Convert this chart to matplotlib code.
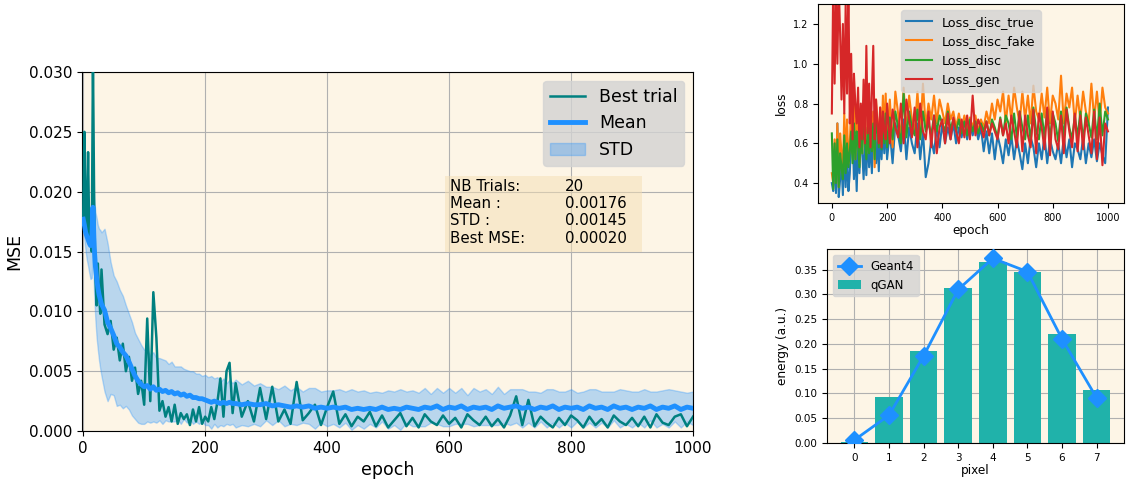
import numpy as np
import matplotlib
matplotlib.use("Agg")
import matplotlib.pyplot as plt
from matplotlib.patches import Rectangle

# ---------------- MSE panel data ----------------
# epochs: 0..30 step 2, 35..245 step 5, 250..1000 step 10
mse_epochs = np.concatenate([np.arange(0, 31, 2), np.arange(35, 246, 5), np.arange(250, 1001, 10)])

best_trial = [
    # 0..30
    0.0178, 0.0250, 0.0180, 0.0165, 0.0233, 0.0160, 0.0185, 0.0150,
    0.0310, 0.0190, 0.0130, 0.0105, 0.0140, 0.0115, 0.0098, 0.0135,
    # 35..245
    0.0089, 0.0081, 0.0092, 0.0068, 0.0078, 0.0059, 0.0073, 0.0050, 0.0062, 0.0042,
    0.0053, 0.0031, 0.0042, 0.0022, 0.0094, 0.0025, 0.0116, 0.0078, 0.0017, 0.0025,
    0.0012, 0.0020, 0.0008, 0.0022, 0.0006, 0.0015, 0.0010, 0.0014, 0.0005, 0.0018,
    0.0008, 0.0020, 0.0006, 0.0012, 0.0008, 0.0020, 0.0010, 0.0024, 0.0044, 0.0012,
    0.0050, 0.0057, 0.0015,
    # 250..1000
    0.0040, 0.0012, 0.0025, 0.0008, 0.0036, 0.0010, 0.0037, 0.0008, 0.0018, 0.0006,
    0.0041, 0.0009, 0.0015, 0.0022, 0.0005, 0.0020, 0.0033, 0.0006, 0.0014, 0.0004,
    0.0012, 0.0008, 0.0016, 0.0004, 0.0013, 0.0003, 0.0009, 0.0015, 0.0004, 0.0011,
    0.0003, 0.0014, 0.0008, 0.0005, 0.0013, 0.0006, 0.0011, 0.0003, 0.0014, 0.0009,
    0.0005, 0.0012, 0.0004, 0.0010, 0.0003, 0.0013, 0.0029, 0.0005, 0.0026, 0.0004,
    0.0012, 0.0007, 0.0003, 0.0011, 0.0005, 0.0013, 0.0009, 0.0003, 0.0012, 0.0005,
    0.0010, 0.0003, 0.0013, 0.0008, 0.0005, 0.0011, 0.0004, 0.0012, 0.0003, 0.0014,
    0.0007, 0.0005, 0.0012, 0.0014, 0.0004, 0.0012,
]

mean_mse = [
    0.0177, 0.0172, 0.0166, 0.0163, 0.0160, 0.0157, 0.0155, 0.0158,
    0.0187, 0.0154, 0.0138, 0.0128, 0.0120, 0.0114, 0.0110, 0.0106,
    0.0101, 0.0091, 0.0086, 0.0080, 0.0073, 0.0070, 0.0066, 0.0063, 0.0058, 0.0052,
    0.0046, 0.0042, 0.0039, 0.0037, 0.0038, 0.0035, 0.0037, 0.0034, 0.0035, 0.0033,
    0.0034, 0.0032, 0.0033, 0.0031, 0.0032, 0.0030, 0.0031, 0.0029, 0.0030, 0.0028,
    0.0028, 0.0027, 0.0027, 0.0026, 0.0025, 0.0024, 0.0025, 0.0024, 0.0023, 0.0024,
    0.0023, 0.0024, 0.0023,
    0.0023, 0.0022, 0.0023, 0.0022, 0.0022, 0.0023, 0.0021, 0.0022, 0.0021, 0.0020,
    0.0021, 0.0020, 0.0021, 0.0019, 0.0020, 0.0019, 0.0020, 0.0019, 0.0020, 0.0018,
    0.0019, 0.0018, 0.0019, 0.0018, 0.0020, 0.0018, 0.0019, 0.0018, 0.0020, 0.0019,
    0.0018, 0.0020, 0.0019, 0.0021, 0.0018, 0.0020, 0.0019, 0.0021, 0.0018, 0.0020,
    0.0019, 0.0020, 0.0018, 0.0021, 0.0019, 0.0020, 0.0021, 0.0019, 0.0020, 0.0018,
    0.0020, 0.0019, 0.0021, 0.0018, 0.0020, 0.0019, 0.0020, 0.0018, 0.0021, 0.0019,
    0.0020, 0.0018, 0.0021, 0.0019, 0.0020, 0.0018, 0.0020, 0.0019, 0.0021, 0.0018,
    0.0020, 0.0019, 0.0021, 0.0018, 0.0020, 0.0019,
]

std_mse = [
    0.0008, 0.0012, 0.0016, 0.0020, 0.0022, 0.0025, 0.0028, 0.0030,
    0.0035, 0.0040, 0.0045, 0.0050, 0.0052, 0.0055, 0.0058, 0.0060,
    0.0068, 0.0066, 0.0055, 0.0050, 0.0052, 0.0048, 0.0047, 0.0042, 0.0040, 0.0039,
    0.0036, 0.0035, 0.0033, 0.0031, 0.0030, 0.0028, 0.0029, 0.0027, 0.0026, 0.0027,
    0.0025, 0.0024, 0.0025, 0.0023, 0.0022, 0.0024, 0.0021, 0.0022, 0.0020, 0.0022,
    0.0020, 0.0021, 0.0019, 0.0021, 0.0020, 0.0022, 0.0019, 0.0021, 0.0018, 0.0020,
    0.0017, 0.0019, 0.0017,
    0.0020, 0.0017, 0.0019, 0.0016, 0.0018, 0.0014, 0.0016, 0.0013, 0.0017, 0.0014,
    0.0016, 0.0013, 0.0015, 0.0017, 0.0013, 0.0015, 0.0014, 0.0016, 0.0013, 0.0017,
    0.0014, 0.0016, 0.0013, 0.0015, 0.0012, 0.0016, 0.0014, 0.0017, 0.0013, 0.0015,
    0.0014, 0.0016, 0.0012, 0.0015, 0.0014, 0.0016, 0.0013, 0.0015, 0.0012, 0.0016,
    0.0014, 0.0015, 0.0013, 0.0016, 0.0012, 0.0015, 0.0014, 0.0016, 0.0013, 0.0015,
    0.0012, 0.0016, 0.0014, 0.0015, 0.0013, 0.0016, 0.0012, 0.0015, 0.0014, 0.0016,
    0.0013, 0.0015, 0.0012, 0.0016, 0.0014, 0.0015, 0.0013, 0.0016, 0.0012, 0.0015,
    0.0014, 0.0016, 0.0013, 0.0015, 0.0012, 0.0014,
]

stat_names = ["NB Trials:", "Mean :", "STD :", "Best MSE:"]
stat_values = ["20", "0.00176", "0.00145", "0.00020"]

# ---------------- loss panel data ----------------
# epochs: 0..195 step 5, 200..1000 step 10
loss_epochs = np.concatenate([np.arange(0, 200, 5), np.arange(200, 1001, 10)])

loss_disc_true = [
    0.40, 0.36, 0.55, 0.35, 0.70, 0.33, 0.42, 0.50, 0.34, 0.60,
    0.38, 0.55, 0.36, 0.45, 0.62, 0.68, 0.42, 0.58, 0.36, 0.62,
    0.45, 0.65, 0.56, 0.42, 0.60, 0.44, 0.66, 0.48, 0.62, 0.45,
    0.68, 0.58, 0.50, 0.64, 0.46, 0.66, 0.52, 0.68, 0.55, 0.70,
    0.52, 0.66, 0.50, 0.70, 0.64, 0.56, 0.72, 0.52, 0.68, 0.60,
    0.55, 0.70, 0.52, 0.66, 0.43, 0.50, 0.62, 0.55, 0.68, 0.58,
    0.70, 0.60, 0.68, 0.62, 0.70, 0.60, 0.68, 0.63, 0.72, 0.62,
    0.70, 0.64, 0.70, 0.62, 0.68, 0.56, 0.66, 0.55, 0.65, 0.52,
    0.64, 0.58, 0.50, 0.62, 0.54, 0.64, 0.52, 0.62, 0.55, 0.47,
    0.60, 0.50, 0.63, 0.58, 0.48, 0.60, 0.52, 0.64, 0.50, 0.62,
    0.56, 0.52, 0.60, 0.50, 0.63, 0.53, 0.62, 0.48, 0.60, 0.57,
    0.52, 0.63, 0.50, 0.60, 0.53, 0.62, 0.51, 0.60, 0.54, 0.50,
    0.78,
]

loss_disc_fake = [
    0.45, 0.40, 0.62, 0.42, 0.70, 0.38, 0.65, 0.55, 0.45, 0.75,
    0.48, 0.72, 0.50, 0.60, 0.78, 0.55, 0.80, 0.52, 0.74, 0.66,
    0.50, 0.72, 0.55, 0.78, 0.68, 0.55, 0.74, 0.58, 0.80, 0.60,
    0.76, 0.48, 0.82, 0.70, 0.62, 0.78, 0.60, 0.84, 0.64, 0.85,
    0.62, 0.82, 0.58, 0.86, 0.75, 0.62, 0.88, 0.65, 0.84, 0.72,
    0.66, 0.86, 0.64, 0.90, 0.68, 0.80, 0.72, 0.84, 0.70, 0.82,
    0.76, 0.70, 0.80, 0.72, 0.76, 0.68, 0.75, 0.67, 0.74, 0.66,
    0.73, 0.68, 0.74, 0.66, 0.72, 0.68, 0.76, 0.70, 0.80, 0.72,
    0.82, 0.76, 0.86, 0.70, 0.84, 0.72, 0.88, 0.78, 0.70, 0.86,
    0.72, 0.84, 0.70, 0.89, 0.76, 0.72, 0.85, 0.73, 0.88, 0.70,
    0.84, 0.80, 0.72, 0.94, 0.70, 0.85, 0.78, 0.88, 0.70, 0.84,
    0.72, 0.86, 0.76, 0.70, 0.90, 0.72, 0.86, 0.70, 0.88, 0.78,
    0.75,
]

loss_disc = [
    0.65, 0.37, 0.60, 0.40, 0.62, 0.38, 0.55, 0.48, 0.42, 0.64,
    0.45, 0.60, 0.48, 0.56, 0.66, 0.50, 0.70, 0.52, 0.66, 0.60,
    0.48, 0.68, 0.55, 0.70, 0.62, 0.52, 0.68, 0.55, 0.72, 0.56,
    0.70, 0.52, 0.74, 0.66, 0.58, 0.72, 0.57, 0.74, 0.60, 0.75,
    0.58, 0.73, 0.62, 0.76, 0.68, 0.60, 0.85, 0.63, 0.76, 0.68,
    0.64, 0.77, 0.62, 0.76, 0.66, 0.70, 0.64, 0.74, 0.66, 0.74,
    0.70, 0.66, 0.76, 0.67, 0.72, 0.66, 0.72, 0.65, 0.71, 0.64,
    0.72, 0.66, 0.71, 0.65, 0.70, 0.66, 0.71, 0.64, 0.72, 0.68,
    0.63, 0.73, 0.64, 0.74, 0.70, 0.62, 0.75, 0.63, 0.76, 0.68,
    0.62, 0.74, 0.61, 0.78, 0.66, 0.62, 0.75, 0.63, 0.77, 0.62,
    0.75, 0.70, 0.61, 0.76, 0.63, 0.78, 0.68, 0.62, 0.74, 0.63,
    0.76, 0.61, 0.75, 0.70, 0.63, 0.77, 0.62, 0.80, 0.64, 0.76,
    0.72,
]

loss_gen = [
    0.75, 1.40, 0.90, 1.35, 1.00, 1.40, 1.15, 0.82, 1.20, 0.75,
    1.30, 0.85, 1.40, 0.70, 1.05, 0.62, 0.95, 0.80, 0.70, 0.88,
    0.58, 0.80, 0.62, 0.92, 0.60, 1.09, 0.65, 0.90, 0.58, 0.85,
    1.09, 0.62, 0.82, 0.70, 0.60, 0.78, 0.58, 0.76, 0.66, 0.62,
    0.80, 0.60, 0.77, 0.68, 0.63, 0.80, 0.60, 0.82, 0.72, 0.63,
    0.78, 0.58, 0.80, 0.66, 0.62, 0.76, 0.58, 0.74, 0.55, 0.68,
    0.72, 0.60, 0.75, 0.62, 0.73, 0.66, 0.60, 0.72, 0.63, 0.74,
    0.62, 0.84, 0.64, 0.72, 0.68, 0.63, 0.71, 0.64, 0.70, 0.66,
    0.62, 0.72, 0.64, 0.70, 0.60, 0.74, 0.66, 0.58, 0.76, 0.56,
    0.74, 0.64, 0.58, 0.77, 0.55, 0.75, 0.68, 0.57, 0.78, 0.54,
    0.76, 0.62, 0.57, 0.74, 0.55, 0.77, 0.66, 0.58, 0.75, 0.56,
    0.74, 0.57, 0.73, 0.64, 0.55, 0.76, 0.52, 0.73, 0.49, 0.70,
    0.66,
]

# ---------------- energy profile data ----------------
pixels = [0, 1, 2, 3, 4, 5, 6, 7]
qgan_energy = [0.002, 0.092, 0.185, 0.314, 0.366, 0.345, 0.220, 0.108]
geant4_energy = [0.006, 0.056, 0.176, 0.310, 0.373, 0.346, 0.210, 0.091]

BG = "oldlace"
LEG = dict(facecolor="lightgray", framealpha=0.8, edgecolor="lightgray")

fig = plt.figure(figsize=(11.26, 4.8), dpi=100)

# left: MSE over epochs
ax = fig.add_axes([0.0728, 0.102, 0.5427, 0.748])
ax.set_facecolor(BG)
mean_arr = np.array(mean_mse)
std_arr = np.array(std_mse)
ax.plot(mse_epochs, best_trial, color="teal", lw=1.8, label="Best trial", zorder=3)
ax.plot(mse_epochs, mean_arr, color="dodgerblue", lw=3.5, label="Mean", zorder=4)
ax.fill_between(mse_epochs, mean_arr - std_arr, mean_arr + std_arr,
                color="dodgerblue", alpha=0.3, label="STD", zorder=2)
ax.set_xlim(-2, 1000)
ax.set_ylim(0, 0.03)
ax.set_yticks([0, 0.005, 0.01, 0.015, 0.02, 0.025, 0.03])
ax.grid(True, zorder=0)
ax.set_axisbelow(True)
ax.tick_params(labelsize=11)
ax.set_xlabel("epoch", fontsize=12.5)
ax.set_ylabel("MSE", fontsize=12.5)
ax.legend(loc="upper right", fontsize=12.5, **LEG)

# stats table: two shaded cells with a text column in each
for x0, x1 in [(593, 781), (781, 917)]:
    ax.add_patch(Rectangle((x0, 0.0150), x1 - x0, 0.0063, facecolor="wheat",
                           alpha=0.5, edgecolor="none", zorder=5))
ax.text(602, 0.0211, "\n".join(stat_names), fontsize=10.8, va="top",
        linespacing=1.2, zorder=6)
ax.text(790, 0.0211, "\n".join(stat_values), fontsize=10.8, va="top",
        linespacing=1.2, zorder=6)

# top right: GAN losses
ax2 = fig.add_axes([0.7265, 0.577, 0.2717, 0.4146])
ax2.set_facecolor(BG)
ax2.plot(loss_epochs, loss_disc_true, color="tab:blue", lw=1.5, label="Loss_disc_true")
ax2.plot(loss_epochs, loss_disc_fake, color="tab:orange", lw=1.5, label="Loss_disc_fake")
ax2.plot(loss_epochs, loss_disc, color="tab:green", lw=1.5, label="Loss_disc")
ax2.plot(loss_epochs, loss_gen, color="tab:red", lw=1.5, label="Loss_gen")
ax2.set_ylim(0.3, 1.3)
ax2.set_xlim(-50, 1058)
ax2.set_yticks([0.4, 0.6, 0.8, 1.0, 1.2])
ax2.tick_params(labelsize=7)
ax2.set_xlabel("epoch", fontsize=8.7, labelpad=1)
ax2.set_ylabel("loss", fontsize=8.7)
ax2.legend(loc="upper center", fontsize=9.2, **LEG)

# bottom right: energy profile
ax3 = fig.add_axes([0.7345, 0.0771, 0.2637, 0.404])
ax3.set_facecolor(BG)
ax3.bar(pixels, qgan_energy, color="lightseagreen", label="qGAN", zorder=2)
ax3.plot(pixels, geant4_energy, color="dodgerblue", lw=2, marker="D", markersize=9,
         label="Geant4", zorder=3)
ax3.grid(True, zorder=0)
ax3.set_axisbelow(True)
ax3.set_xticks(pixels)
ax3.tick_params(labelsize=7.5)
ax3.set_xlabel("pixel", fontsize=8.7, labelpad=1)
ax3.set_ylabel("energy (a.u.)", fontsize=8.7)
ax3.legend(loc="upper left", fontsize=8.5, **LEG)

fig.savefig("out.png", dpi=100)
